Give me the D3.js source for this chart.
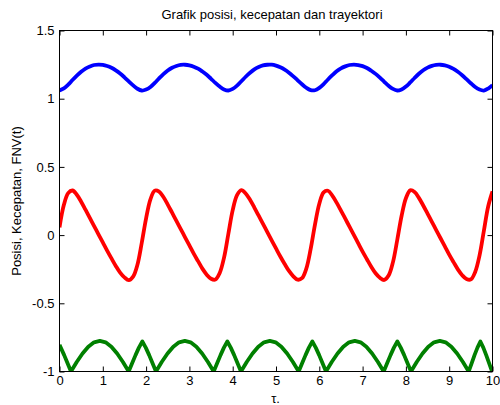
<!DOCTYPE html>
<html>
<head>
<meta charset="utf-8">
<script src="https://cdn.jsdelivr.net/npm/d3@7"></script>
<style>
  body { margin: 0; background: #fff; }
  text { font-family: Arial, "Liberation Sans", sans-serif; font-size: 13px; fill: #000; }
</style>
</head>
<body>
<script>
// sample times for position and velocity
var tSample = [0,0.1,0.2,0.3,0.4,0.5,0.6,0.7,0.8,0.9,1,1.1,1.2,1.3,1.4,1.5,1.6,1.7,1.8,1.9,2,2.1,2.2,2.3,2.4,2.5,2.6,2.7,2.8,2.9,3,3.1,3.2,3.3,3.4,3.5,3.6,3.7,3.8,3.9,4,4.1,4.2,4.3,4.4,4.5,4.6,4.7,4.8,4.9,5,5.1,5.2,5.3,5.4,5.5,5.6,5.7,5.8,5.9,6,6.1,6.2,6.3,6.4,6.5,6.6,6.7,6.8,6.9,7,7.1,7.2,7.3,7.4,7.5,7.6,7.7,7.8,7.9,8,8.1,8.2,8.3,8.4,8.5,8.6,8.7,8.8,8.9,9,9.1,9.2,9.3,9.4,9.5,9.6,9.7,9.8,9.9,10];

// posisi (blue)
var posisi = [
  1.061, 1.076, 1.103, 1.137, 1.169, 1.198, 1.221, 1.236, 1.247, 1.250,
  1.248, 1.240, 1.227, 1.208, 1.185, 1.157, 1.127, 1.098, 1.073, 1.060,
  1.067, 1.086, 1.116, 1.149, 1.180, 1.207, 1.227, 1.240, 1.248, 1.249,
  1.245, 1.235, 1.220, 1.199, 1.175, 1.146, 1.116, 1.089, 1.068, 1.060,
  1.072, 1.096, 1.128, 1.161, 1.190, 1.215, 1.232, 1.244, 1.249, 1.249,
  1.242, 1.230, 1.213, 1.191, 1.164, 1.135, 1.106, 1.080, 1.063, 1.062,
  1.079, 1.107, 1.141, 1.172, 1.201, 1.223, 1.237, 1.247, 1.250, 1.247,
  1.239, 1.225, 1.205, 1.182, 1.154, 1.124, 1.095, 1.072, 1.060, 1.068,
  1.089, 1.119, 1.152, 1.183, 1.209, 1.228, 1.241, 1.248, 1.249, 1.244,
  1.234, 1.218, 1.197, 1.172, 1.143, 1.113, 1.086, 1.067, 1.060, 1.074,
  1.099
];

// kecepatan (red)
var kecepatan = [
  0.057, 0.22, 0.308, 0.327, 0.296, 0.245, 0.186, 0.126, 0.066, 0.006,
  -0.054, -0.114, -0.171, -0.226, -0.275, -0.31, -0.33, -0.304, -0.217, -0.056,
  0.123, 0.262, 0.326, 0.319, 0.279, 0.224, 0.164, 0.104, 0.044, -0.016,
  -0.076, -0.136, -0.191, -0.246, -0.29, -0.32, -0.326, -0.278, -0.165, 0.01,
  0.183, 0.293, 0.33, 0.305, 0.259, 0.202, 0.142, 0.082, 0.022, -0.038,
  -0.098, -0.157, -0.212, -0.263, -0.302, -0.327, -0.316, -0.246, -0.103, 0.077,
  0.23, 0.313, 0.325, 0.29, 0.238, 0.18, 0.12, 0.06, 0.0, -0.061,
  -0.121, -0.177, -0.232, -0.28, -0.313, -0.329, -0.297, -0.2, -0.036, 0.14,
  0.27, 0.328, 0.316, 0.273, 0.217, 0.157, 0.097, 0.037, -0.023, -0.083,
  -0.143, -0.198, -0.251, -0.294, -0.322, -0.325, -0.27, -0.15, 0.03, 0.21,
  0.32
];

// FNV (green), own time points because of the sharp corners
var fnvT = [0, 0.029, 0.108, 0.186, 0.265,
  0.398, 0.532, 0.665, 0.798, 0.932, 1.065, 1.198, 1.331, 1.465, 1.598,
  1.677, 1.756, 1.834, 1.913, 1.992, 2.071, 2.149, 2.228,
  2.361, 2.495, 2.628, 2.761, 2.895, 3.028, 3.161, 3.294, 3.428, 3.561,
  3.640, 3.719, 3.797, 3.876, 3.955, 4.034, 4.112, 4.191,
  4.324, 4.458, 4.591, 4.724, 4.858, 4.991, 5.124, 5.257, 5.391, 5.524,
  5.603, 5.682, 5.760, 5.839, 5.918, 5.997, 6.075, 6.154,
  6.287, 6.421, 6.554, 6.687, 6.821, 6.954, 7.087, 7.220, 7.354, 7.487,
  7.566, 7.645, 7.723, 7.802, 7.881, 7.960, 8.038, 8.117,
  8.250, 8.384, 8.517, 8.650, 8.784, 8.917, 9.050, 9.183, 9.317, 9.450,
  9.518, 9.585, 9.653, 9.720, 9.788, 9.855, 9.923, 9.990, 10.0];
var fnv = [-0.805, -0.825, -0.88, -0.94, -1,
  -0.93, -0.868, -0.818, -0.786, -0.775, -0.786, -0.818, -0.868, -0.93, -1,
  -0.94, -0.88, -0.825, -0.78, -0.825, -0.88, -0.94, -1,
  -0.93, -0.868, -0.818, -0.786, -0.775, -0.786, -0.818, -0.868, -0.93, -1,
  -0.94, -0.88, -0.825, -0.78, -0.825, -0.88, -0.94, -1,
  -0.93, -0.868, -0.818, -0.786, -0.775, -0.786, -0.818, -0.868, -0.93, -1,
  -0.94, -0.88, -0.825, -0.78, -0.825, -0.88, -0.94, -1,
  -0.93, -0.868, -0.818, -0.786, -0.775, -0.786, -0.818, -0.868, -0.93, -1,
  -0.94, -0.88, -0.825, -0.78, -0.825, -0.88, -0.94, -1,
  -0.93, -0.868, -0.818, -0.786, -0.775, -0.786, -0.818, -0.868, -0.93, -1,
  -0.94, -0.88, -0.825, -0.78, -0.825, -0.88, -0.94, -1, -0.99];

var xTicks = [0, 1, 2, 3, 4, 5, 6, 7, 8, 9, 10];
var yTicks = [-1, -0.5, 0, 0.5, 1, 1.5];

var width = 500, height = 405;

var svg = d3.select("body").append("svg")
    .attr("width", width)
    .attr("height", height);

var x = d3.scaleLinear().domain([0, 10]).range([59.5, 492.5]);
var y = d3.scaleLinear().domain([-1, 1.5]).range([371.5, 30.5]);

// clip lines to the axes box
svg.append("clipPath").attr("id", "plotClip")
  .append("rect")
    .attr("x", x(0)).attr("y", y(1.5))
    .attr("width", x(10) - x(0)).attr("height", y(-1) - y(1.5));

var smooth = d3.line()
    .x(function(d) { return x(d[0]); })
    .y(function(d) { return y(d[1]); })
    .curve(d3.curveCatmullRom);

var straight = d3.line()
    .x(function(d) { return x(d[0]); })
    .y(function(d) { return y(d[1]); });

var lines = svg.append("g").attr("clip-path", "url(#plotClip)");

lines.append("path")
    .attr("d", smooth(d3.zip(tSample, posisi)))
    .attr("fill", "none").attr("stroke", "#0000ff")
    .attr("stroke-width", 3.8).attr("stroke-linejoin", "round");

lines.append("path")
    .attr("d", smooth(d3.zip(tSample, kecepatan)))
    .attr("fill", "none").attr("stroke", "#ff0000")
    .attr("stroke-width", 3.8).attr("stroke-linejoin", "round");

lines.append("path")
    .attr("d", straight(d3.zip(fnvT, fnv)))
    .attr("fill", "none").attr("stroke", "#008000")
    .attr("stroke-width", 3.8).attr("stroke-linejoin", "round");

// axes, ticks pointing inward
var gx = svg.append("g").attr("transform", "translate(0," + y(-1) + ")")
    .call(d3.axisBottom(x).tickValues(xTicks).tickSize(-5).tickPadding(4).tickFormat(d3.format("d")));
var gxTop = svg.append("g").attr("transform", "translate(0," + y(1.5) + ")")
    .call(d3.axisTop(x).tickValues(xTicks).tickSize(-5).tickFormat(""));
var gy = svg.append("g").attr("transform", "translate(" + x(0) + ",0)")
    .call(d3.axisLeft(y).tickValues(yTicks).tickSize(-5).tickPadding(5).tickFormat(function(d) { return String(d); }));
var gyRight = svg.append("g").attr("transform", "translate(" + x(10) + ",0)")
    .call(d3.axisRight(y).tickValues(yTicks).tickSize(-5).tickFormat(""));

svg.selectAll(".domain").remove();
svg.selectAll(".tick line").attr("stroke", "#000");
svg.selectAll(".tick text")
    .style("font-family", "Arial, 'Liberation Sans', sans-serif")
    .style("font-size", "13px")
    .attr("fill", "#000");

svg.append("rect")
    .attr("x", x(0)).attr("y", y(1.5))
    .attr("width", x(10) - x(0)).attr("height", y(-1) - y(1.5))
    .attr("fill", "none").attr("stroke", "#000").attr("stroke-width", 1);

// titles
svg.append("text")
    .attr("x", 272).attr("y", 19)
    .attr("text-anchor", "middle")
    .text("Grafik posisi, kecepatan dan trayektori");

svg.append("text")
    .attr("x", 275.5).attr("y", 403)
    .attr("text-anchor", "middle")
    .text("τ.");

svg.append("text")
    .attr("transform", "translate(21,201) rotate(-90)")
    .attr("text-anchor", "middle")
    .text("Posisi, Kecepatan, FNV(t)");
</script>
</body>
</html>
